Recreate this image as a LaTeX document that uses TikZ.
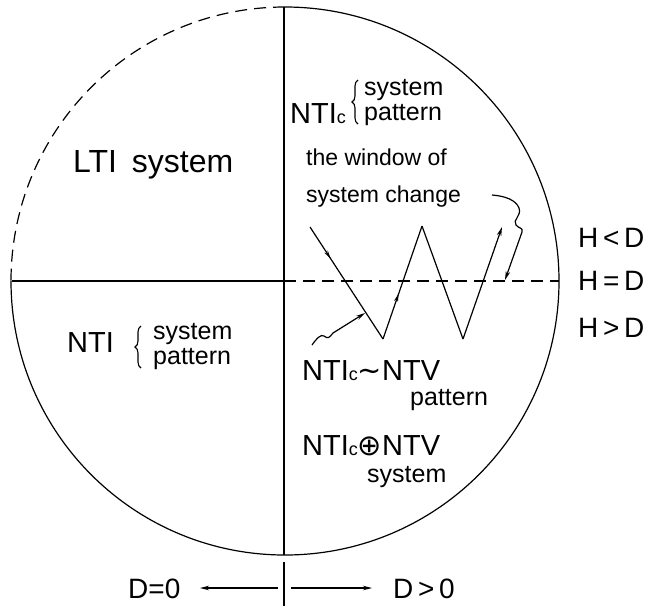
\documentclass[tikz,border=0pt]{standalone}
\usepackage{fontspec}
\setmainfont{Liberation Sans}
\newfontfamily\symfont{DejaVu Sans}
\usetikzlibrary{arrows.meta,decorations.markings,decorations.pathreplacing}
\tikzset{
  ln/.style={line width=1.2pt},
  dsh/.style={ln,dash pattern=on 12pt off 7pt},
  tip/.style={-{Stealth[length=9pt,width=4.5pt]}},
  brcline/.style={line width=1.1pt,decorate,decoration={brace,amplitude=6pt}},
  txtbig/.style={anchor=base west,inner sep=0pt,font=\fontsize{29}{29}\selectfont},
  txtlti/.style={anchor=base west,inner sep=0pt,font=\fontsize{32}{32}\selectfont},
  txtmid/.style={anchor=base west,inner sep=0pt,font=\fontsize{25}{25}\selectfont},
  txtsm/.style={anchor=base west,inner sep=0pt,font=\fontsize{23}{23}\selectfont},
  txth/.style={anchor=base west,inner sep=0pt,font=\fontsize{28}{28}\selectfont},
}
\newcommand{\subc}{{\fontsize{18}{18}\selectfont c}}
\begin{document}
\begin{tikzpicture}[x=1pt,y=-1pt]
\useasboundingbox (0,0) rectangle (655,606);
\coordinate (C) at (285,281);
\coordinate (T) at (285,7);
% circle
\draw[dsh] (T) arc[start angle=90,end angle=180,radius=274pt];
\draw[ln] (C) ++(-274,0) arc[start angle=180,end angle=450,radius=274pt];
% axes
\coordinate (vt) at (284,7);
\coordinate (vb) at (284,555);
\coordinate (vb2) at (284,562);
\coordinate (vb3) at (284,606);
\draw[ln] (vt) -- (vb);
\draw[ln] (vb2) -- (vb3);
\coordinate (hl) at (12,281);
\coordinate (hm) at (284,281);
\coordinate (hr) at (559,281);
\draw[ln] (hl) -- (hm);
\draw[dsh] (hm) -- (hr);
% zigzag
\coordinate (z0) at (310,227);
\coordinate (z1) at (383,339);
\coordinate (z2) at (422,226);
\coordinate (z3) at (463,339);
\coordinate (z4) at (502,227);
\draw[ln,decoration={markings,mark=at position 0.28 with {\arrow{Stealth[length=8pt,width=4pt]}}},postaction={decorate}] (z0) -- (z1);
\draw[ln,decoration={markings,mark=at position 0.4 with {\arrow{Stealth[length=8pt,width=4pt]}}},postaction={decorate}] (z1) -- (z2);
\draw[ln] (z2) -- (z3);
\draw[ln,tip] (z3) -- (z4);
% wavy arrow from NTIc~NTV
\coordinate (w0) at (312,345);
\coordinate (w1) at (365,313);
\draw[ln,tip] (w0) .. controls (317,338) and (321,334) .. (324,336)
  .. controls (328,339) and (329,338) .. (333,333) -- (w1);
% wiggly arrow from system change
\coordinate (q0) at (492,195);
\coordinate (q1) at (505,280);
\draw[ln,tip] (q0) .. controls (505,196) and (516,200) .. (519,208)
  .. controls (522,216) and (512,220) .. (516,225)
  .. controls (519,229) and (523,227) .. (522,232) -- (q1);
% D arrows
\coordinate (dl0) at (278,588);
\coordinate (dl1) at (200,588);
\coordinate (dr0) at (291,588);
\coordinate (dr1) at (372,588);
\draw[ln,tip] (dl0) -- (dl1);
\draw[ln,tip] (dr0) -- (dr1);
% braces
\coordinate (b1b) at (358,124);
\coordinate (b1t) at (358,80);
\draw[brcline] (b1b) -- (b1t);
\coordinate (b2b) at (141,368);
\coordinate (b2t) at (141,326);
\draw[brcline] (b2b) -- (b2t);
% texts
\node[txtlti] (lti) at (73,172) {LTI\hspace{6pt} system};
\node[txtbig] (ntic) at (290,123) {NTI\subc};
\node[txtmid] (s1) at (364,95) {system};
\node[txtmid] (p1) at (364,120) {pattern};
\node[txtsm] (win) at (306,165) {the window of};
\node[txtsm] (chg) at (306,202) {system change};
\node[txtbig] (nti) at (67,352) {NTI};
\node[txtmid] (s2) at (153,339) {system};
\node[txtmid] (p2) at (153,364) {pattern};
\node[txtbig] (ntv1) at (302,380) {NTI\subc{\symfont ∼}NTV};
\node[txtmid] (p3) at (410,405) {pattern};
\node[txtbig] (ntv2) at (302,455) {NTI\subc{\symfont ⊕}NTV};
\node[txtmid] (s3) at (367,482) {system};
\node[txth] (d0) at (128,598) {D=0};
\node[txth] (d1) at (393,598) {D\,>\,0};
\node[txth] (hlt) at (578,247) {H\,<\,D};
\node[txth] (heq) at (578,290) {H\,=\,D};
\node[txth] (hgt) at (578,337) {H\,>\,D};
\end{tikzpicture}
\end{document}
